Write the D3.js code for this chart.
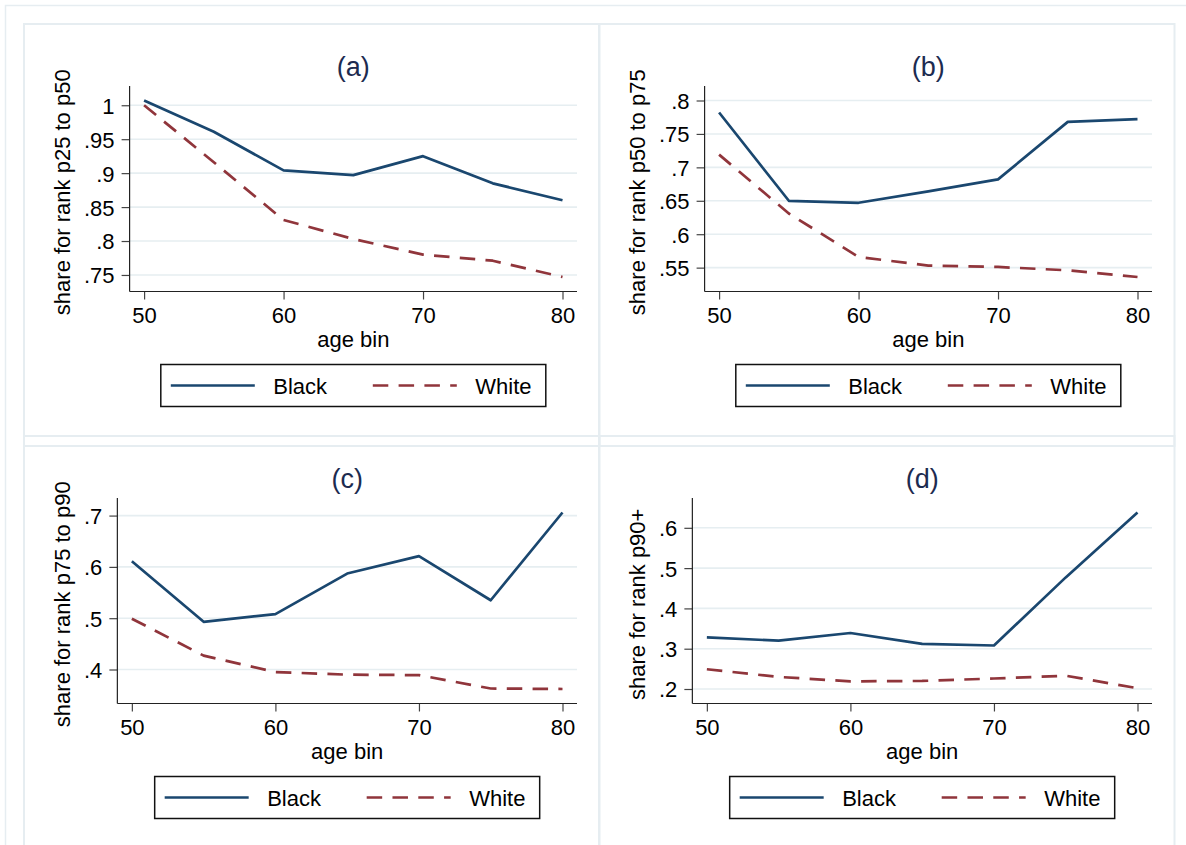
<!DOCTYPE html>
<html>
<head>
<meta charset="utf-8">
<script src="https://cdn.jsdelivr.net/npm/d3@7"></script>
<style>
  html, body { margin: 0; padding: 0; background: #fff; }
  svg { display: block; font-family: "Liberation Sans", Arial, Helvetica, sans-serif; }
</style>
</head>
<body>
<svg id="chart" width="1186" height="845"></svg>
<script>
// Age bins shared by all four panels
const ages = [50, 55, 60, 65, 70, 75, 80];
const xTicks = [50, 60, 70, 80];
const seriesNames = ["Black", "White"];

// (a) share for rank p25 to p50
const blackA = [1.007, 0.961, 0.904, 0.897, 0.925, 0.885, 0.860];
const whiteA = [1.000, 0.916, 0.831, 0.803, 0.780, 0.771, 0.747];
const ticksA = [0.75, 0.8, 0.85, 0.9, 0.95, 1];

// (b) share for rank p50 to p75
const blackB = [0.782, 0.650, 0.647, 0.664, 0.682, 0.768, 0.772];
const whiteB = [0.719, 0.631, 0.566, 0.553, 0.551, 0.546, 0.536];
const ticksB = [0.55, 0.6, 0.65, 0.7, 0.75, 0.8];

// (c) share for rank p75 to p90
const blackC = [0.611, 0.493, 0.508, 0.587, 0.621, 0.535, 0.706];
const whiteC = [0.499, 0.427, 0.395, 0.390, 0.389, 0.363, 0.362];
const ticksC = [0.4, 0.5, 0.6, 0.7];

// (d) share for rank p90+
const blackD = [0.328, 0.320, 0.339, 0.312, 0.308, 0.477, 0.638];
const whiteD = [0.249, 0.230, 0.219, 0.220, 0.226, 0.233, 0.202];
const ticksD = [0.2, 0.3, 0.4, 0.5, 0.6];

const panelTitles = ["(a)", "(b)", "(c)", "(d)"];
const yTitles = ["share for rank p25 to p50", "share for rank p50 to p75",
                 "share for rank p75 to p90", "share for rank p90+"];

const panels = [
  { title: panelTitles[0], yTitle: yTitles[0], black: blackA, white: whiteA, ticks: ticksA, col: 0, row: 0 },
  { title: panelTitles[1], yTitle: yTitles[1], black: blackB, white: whiteB, ticks: ticksB, col: 1, row: 0 },
  { title: panelTitles[2], yTitle: yTitles[2], black: blackC, white: whiteC, ticks: ticksC, col: 0, row: 1 },
  { title: panelTitles[3], yTitle: yTitles[3], black: blackD, white: whiteD, ticks: ticksD, col: 1, row: 1 }
];

// Styling
const navy = "#1a476f", maroon = "#90353b";
const frameColor = "#e6edf1", gridColor = "#e6eef1";
const titleColor = "#1c2b50";
const dash = "15.5,10.3";
const fontSize = 22;

const svg = d3.select("#chart");

// Outer frame
svg.append("rect")
  .attr("x", 5.5).attr("y", 5.5).attr("width", 1220).attr("height", 900)
  .attr("fill", "none").attr("stroke", frameColor).attr("stroke-width", 1.5);

// Panel geometry
const colX = [24, 599], rowY = [24, 436];
const panelW = 575.5, panelH = 412;
const plotTop = 62, plotBottom = 267.5, plotRight = 553;
const labelLeft = 60, tickLen = 8, labelGap = 7, margin = 14.5;

const fmt = v => String(+v.toFixed(3)).replace(/^0\./, ".");

// Helper to measure label widths
const measurer = svg.append("text").attr("font-size", fontSize).attr("visibility", "hidden");
function textWidth(s) { measurer.text(s); return measurer.node().getComputedTextLength(); }

panels.forEach(p => {
  const g = svg.append("g").attr("transform", `translate(${colX[p.col]},${rowY[p.row]})`);

  g.append("rect")
    .attr("x", 0).attr("y", 0).attr("width", panelW).attr("height", panelH + 10)
    .attr("fill", "none").attr("stroke", frameColor).attr("stroke-width", 2);

  const labels = p.ticks.map(fmt);
  const maxW = d3.max(labels, textWidth);
  const axisX = labelLeft + maxW + labelGap + tickLen;

  const x = d3.scaleLinear().domain(d3.extent(ages)).range([axisX + margin, plotRight - margin]);
  const yDomain = d3.extent([...p.black, ...p.white, ...p.ticks]);
  const y = d3.scaleLinear().domain(yDomain).range([plotBottom - margin, plotTop + margin]);

  // Gridlines
  g.append("g").selectAll("line").data(p.ticks).join("line")
    .attr("x1", axisX).attr("x2", plotRight)
    .attr("y1", d => y(d)).attr("y2", d => y(d))
    .attr("stroke", gridColor).attr("stroke-width", 1.6);

  // Y axis
  const yAxis = d3.axisLeft(y).tickValues(p.ticks).tickFormat(fmt).tickSize(tickLen).tickPadding(labelGap);
  const ya = g.append("g").attr("transform", `translate(${axisX},0)`).call(yAxis);
  ya.select(".domain").remove();
  ya.append("line").attr("x1", 0).attr("x2", 0).attr("y1", plotTop).attr("y2", plotBottom)
    .attr("stroke", "#222").attr("stroke-width", 1.2);
  ya.selectAll(".tick line").attr("stroke", "#444").attr("stroke-width", 1.2);
  ya.selectAll(".tick text").attr("font-size", fontSize).attr("fill", "#000")
    .attr("font-family", "Liberation Sans, Arial, sans-serif").attr("dy", "0.36em");

  // X axis
  const xAxis = d3.axisBottom(x).tickValues(xTicks).tickFormat(d3.format("d")).tickSize(tickLen).tickPadding(labelGap);
  const xa = g.append("g").attr("transform", `translate(0,${plotBottom})`).call(xAxis);
  xa.select(".domain").remove();
  xa.append("line").attr("x1", axisX).attr("x2", plotRight).attr("y1", 0).attr("y2", 0)
    .attr("stroke", "#222").attr("stroke-width", 1.2);
  xa.selectAll(".tick line").attr("stroke", "#444").attr("stroke-width", 1.2);
  xa.selectAll(".tick text").attr("font-size", fontSize).attr("fill", "#000")
    .attr("font-family", "Liberation Sans, Arial, sans-serif").attr("dy", null).attr("y", 31);

  const cx = (axisX + plotRight) / 2;

  // Series lines
  const line = d3.line().x(d => x(d[0])).y(d => y(d[1]));
  g.append("path").datum(d3.zip(ages, p.white)).attr("d", line)
    .attr("fill", "none").attr("stroke", maroon).attr("stroke-width", 2.7)
    .attr("stroke-dasharray", dash).attr("stroke-linejoin", "round");
  g.append("path").datum(d3.zip(ages, p.black)).attr("d", line)
    .attr("fill", "none").attr("stroke", navy).attr("stroke-width", 2.7)
    .attr("stroke-linejoin", "round");

  // Titles
  g.append("text").attr("x", cx).attr("y", 52).attr("text-anchor", "middle")
    .attr("font-size", 27).attr("fill", titleColor).text(p.title);
  g.append("text").attr("x", cx).attr("y", plotBottom + 55).attr("text-anchor", "middle")
    .attr("font-size", fontSize).attr("fill", "#000").text("age bin");
  g.append("text")
    .attr("transform", `translate(45.5,${(plotTop + plotBottom) / 2 + 3.5}) rotate(-90)`)
    .attr("text-anchor", "middle").attr("font-size", fontSize).attr("fill", "#000").text(p.yTitle);

  // Legend
  const lw = 385, lh = 42;
  const lg = g.append("g").attr("transform", `translate(${cx - lw / 2},${plotBottom + 73})`);
  lg.append("rect").attr("width", lw).attr("height", lh)
    .attr("fill", "#fff").attr("stroke", "#111").attr("stroke-width", 1.5);
  const items = lg.selectAll("g.item").data(seriesNames).join("g")
    .attr("class", "item").attr("transform", (d, i) => `translate(${10 + i * 202},0)`);
  items.append("line").attr("x1", 0).attr("x2", 84).attr("y1", lh / 2).attr("y2", lh / 2)
    .attr("stroke", (d, i) => i === 0 ? navy : maroon).attr("stroke-width", 2.7)
    .attr("stroke-dasharray", (d, i) => i === 0 ? null : dash);
  items.append("text").attr("x", 102.5).attr("y", lh / 2 + 8).attr("font-size", fontSize)
    .attr("fill", "#000").text(d => d);
});

measurer.remove();
</script>
</body>
</html>
